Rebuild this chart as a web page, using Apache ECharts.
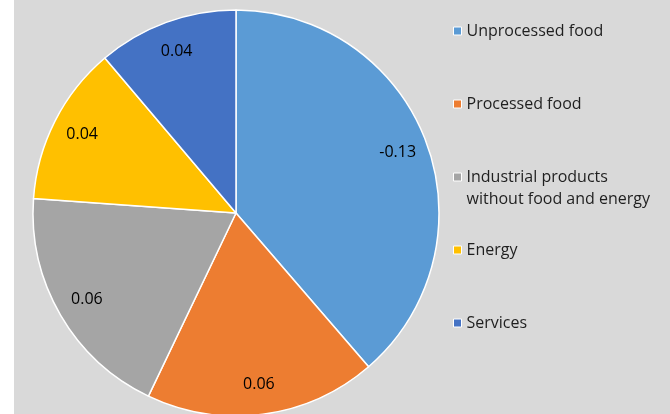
<!DOCTYPE html>
<html>
<head>
<meta charset="utf-8">
<script src="https://cdn.jsdelivr.net/npm/echarts@6/dist/echarts.min.js"></script>
<style>
  html, body { margin: 0; padding: 0; background: #ffffff; }
  #chart { width: 670px; height: 414px; background: linear-gradient(to right, #ffffff 14px, #d9d9d9 14px); }
</style>
</head>
<body>
<div id="chart"></div>
<script>
// Data
const categories = ['Unprocessed food', 'Processed food', 'Industrial products without food and energy', 'Energy', 'Services'];
const values = [-0.128, 0.061, 0.063, 0.042, 0.037];
const colors = ['#5B9BD5', '#ED7D31', '#A5A5A5', '#FFC000', '#4472C4'];
const legendCenters = [31, 104, 177, 250, 323];

const FONT = '"Open Sans", "Noto Sans", sans-serif';
const pieData = categories.map((c, i) => ({ name: c, value: Math.abs(values[i]), itemStyle: { color: colors[i] } }));

const legends = categories.map((c, i) => {
  const twoLine = c.indexOf('without') >= 0;
  return {
    data: [c],
    orient: 'vertical',
    left: 453,
    top: twoLine ? legendCenters[i] - 33 : legendCenters[i] - 11,
    padding: 0,
    icon: 'rect',
    itemWidth: 8,
    itemHeight: 8,
    itemGap: 0,
    selectedMode: false,
    itemStyle: { borderColor: '#ffffff', borderWidth: 1 },
    formatter: name => name.indexOf(' without') >= 0 ? ' \n' + name.replace(' without', '\nwithout') : name,
    textStyle: {
      fontFamily: FONT, fontSize: 16, color: '#1f1f1f', lineHeight: 22
    }
  };
});

const chart = echarts.init(document.getElementById('chart'), null, { renderer: 'canvas' });
chart.setOption({
  animation: false,
  backgroundColor: 'transparent',
  legend: legends,
  series: [
    {
      type: 'pie',
      center: [236, 213],
      radius: [0, 203],
      startAngle: 90,
      clockwise: true,
      data: pieData,
      label: { show: false },
      labelLine: { show: false },
      itemStyle: { borderColor: '#ffffff', borderWidth: 1.5 },
      emphasis: { disabled: true }
    },
    {
      type: 'pie',
      center: [236, 213],
      radius: [136, 203],
      startAngle: 90,
      clockwise: true,
      silent: true,
      legendHoverLink: false,
      data: pieData.map(d => ({ name: d.name, value: d.value, itemStyle: { color: 'rgba(0,0,0,0)' } })),
      itemStyle: { borderWidth: 0 },
      emphasis: { disabled: true },
      labelLine: { show: false },
      label: {
        show: true,
        position: 'inside',
        fontFamily: FONT,
        fontSize: 16,
        color: '#000000',
        formatter: p => values[p.dataIndex].toFixed(2)
      }
    }
  ]
});
</script>
</body>
</html>
